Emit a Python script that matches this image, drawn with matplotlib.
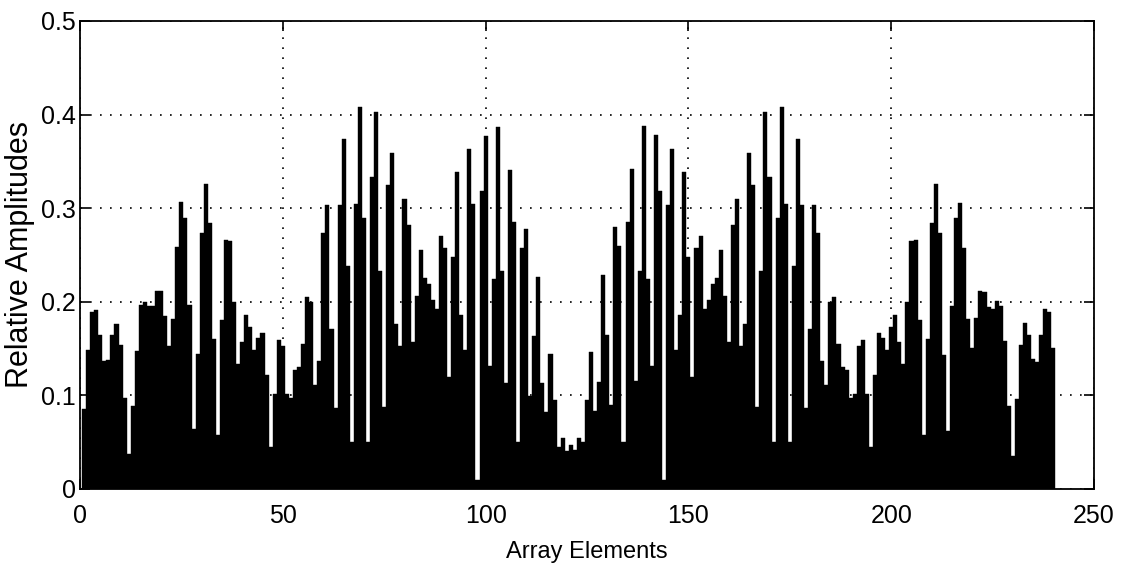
import numpy as np
import matplotlib.pyplot as plt

plt.rcParams['font.family'] = ['Liberation Sans', 'DejaVu Sans']

# array element index (1..240)
elements = np.arange(1, 241)

# relative amplitudes, elements 1..121
amp_left = [
    0.085, 0.148, 0.189, 0.191, 0.165, 0.137, 0.138, 0.164, 0.176, 0.154,
    0.097, 0.037, 0.089, 0.147, 0.197, 0.200, 0.196, 0.196, 0.212, 0.212,
    0.185, 0.153, 0.182, 0.259, 0.307, 0.290, 0.197, 0.064, 0.144, 0.273,
    0.326, 0.284, 0.160, 0.058, 0.181, 0.266, 0.265, 0.200, 0.134, 0.157,
    0.186, 0.173, 0.149, 0.161, 0.167, 0.122, 0.045, 0.101, 0.159, 0.153,
    0.102, 0.097, 0.127, 0.130, 0.155, 0.205, 0.200, 0.111, 0.137, 0.273,
    0.303, 0.171, 0.087, 0.303, 0.374, 0.238, 0.050, 0.305, 0.408, 0.290,
    0.050, 0.333, 0.403, 0.233, 0.088, 0.325, 0.359, 0.176, 0.153, 0.310,
    0.282, 0.157, 0.206, 0.255, 0.225, 0.219, 0.202, 0.192, 0.270, 0.258,
    0.120, 0.248, 0.339, 0.186, 0.148, 0.363, 0.305, 0.010, 0.318, 0.377,
    0.131, 0.224, 0.387, 0.233, 0.113, 0.341, 0.285, 0.050, 0.258, 0.278,
    0.099, 0.163, 0.227, 0.113, 0.082, 0.144, 0.095, 0.045, 0.054, 0.041,
    0.047,
]
# elements 122..240
amp_right = [
    0.042, 0.055, 0.050, 0.095, 0.146, 0.083, 0.114, 0.229, 0.164,
    0.090, 0.280, 0.260, 0.050, 0.285, 0.342, 0.115, 0.233, 0.388, 0.224,
    0.131, 0.378, 0.318, 0.010, 0.303, 0.363, 0.148, 0.186, 0.339, 0.248,
    0.120, 0.258, 0.270, 0.192, 0.202, 0.219, 0.225, 0.255, 0.206, 0.157,
    0.282, 0.310, 0.153, 0.176, 0.359, 0.325, 0.088, 0.233, 0.403, 0.333,
    0.050, 0.290, 0.408, 0.305, 0.050, 0.238, 0.374, 0.303, 0.087, 0.171,
    0.303, 0.273, 0.137, 0.111, 0.200, 0.205, 0.155, 0.130, 0.127, 0.097,
    0.102, 0.153, 0.159, 0.101, 0.045, 0.122, 0.167, 0.161, 0.149, 0.173,
    0.186, 0.157, 0.134, 0.200, 0.265, 0.266, 0.181, 0.058, 0.160, 0.284,
    0.326, 0.273, 0.143, 0.062, 0.195, 0.289, 0.306, 0.258, 0.182, 0.151,
    0.183, 0.212, 0.210, 0.194, 0.192, 0.201, 0.195, 0.158, 0.089, 0.035,
    0.096, 0.154, 0.177, 0.164, 0.139, 0.136, 0.165, 0.192, 0.189, 0.151,
]
amplitudes = amp_left + amp_right

x_ticks = [0, 50, 100, 150, 200, 250]
y_ticks = [0, 0.1, 0.2, 0.3, 0.4, 0.5]
y_tick_labels = ["0", "0.1", "0.2", "0.3", "0.4", "0.5"]

W, H = 1128, 573
fig = plt.figure(figsize=(W / 100, H / 100), dpi=100)
ax = fig.add_axes([80 / W, 1 - 489 / H, (1094 - 80) / W, (489 - 21) / H])

ax.bar(elements, amplitudes, width=1.0, color="black", edgecolor="black", linewidth=0.3)

ax.set_xlim(0, 250)
ax.set_ylim(0, 0.5)
ax.set_xticks(x_ticks)
ax.set_yticks(y_ticks)
ax.set_yticklabels(y_tick_labels)
ax.tick_params(direction="in", top=True, right=True, length=7, width=1.2, labelsize=18)
ax.tick_params(axis="x", pad=11)
ax.tick_params(axis="y", pad=3)
ax.grid(True, color="black", linestyle=(0, (1, 5)), linewidth=1.2)
for s in ax.spines.values():
    s.set_linewidth(1.3)

ax.set_xlabel("Array Elements", fontsize=17, labelpad=9)
ax.set_ylabel("Relative Amplitudes", fontsize=22, labelpad=4)

fig.savefig("out.png", dpi=100)
